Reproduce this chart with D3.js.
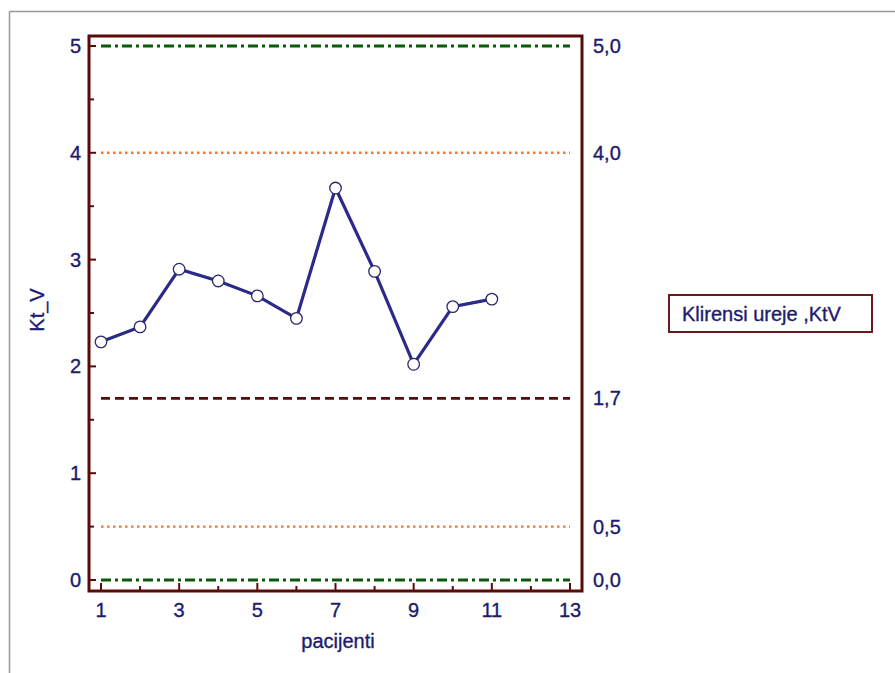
<!DOCTYPE html>
<html><head><meta charset="utf-8">
<script src="https://cdn.jsdelivr.net/npm/d3@7"></script>
<style>body{margin:0;background:#fff;} svg{display:block;} text{stroke:#1c1c6e;stroke-width:0.35px;}</style>
</head><body>
<script>
const patients = [1,2,3,4,5,6,7,8,9,10,11];
const ktv = [2.23,2.37,2.91,2.80,2.66,2.45,3.67,2.89,2.02,2.56,2.63];
const refValues = [5.0,4.0,1.7,0.5,0.0];
const refLabels = ["5,0","4,0","1,7","0,5","0,0"];
const refStyles = ["dashdot","dot","dash","dot","dashdot"];
const yTicks = [0,1,2,3,4,5];
const xTicks = [1,3,5,7,9,11,13];
const legendText = "Klirensi ureje ,KtV";

const W=895,H=673;
const svg=d3.select("body").append("svg").attr("width",W).attr("height",H);
const font="Liberation Sans, Arial, sans-serif";
const fs=20;
const navy="#1c1c6e", maroon="#5a0a0a";

// outer border
svg.append("line").attr("x1",9.5).attr("y1",11.5).attr("x2",W).attr("y2",11.5).attr("stroke","#999").attr("stroke-width",1.5);
svg.append("line").attr("x1",9.5).attr("y1",11.5).attr("x2",9.5).attr("y2",H).attr("stroke","#999").attr("stroke-width",1.5);

const fx0=89, fx1=582, fy0=36, fy1=591;
const x=d3.scaleLinear().domain([1,13]).range([101,570]);
const y=d3.scaleLinear().domain([0,5]).range([580,46]);

// reference lines
const dashes={dashdot:"10,4,3,4", dot:"2.5,3.5", dash:"9,5"};
const colors={dashdot:"#0b5a0b", dot:"#f07830", dash:"#5a0a0a"};
refValues.forEach((v,i)=>{
  const s=refStyles[i];
  svg.append("line").attr("x1",x(1)).attr("x2",x(13)).attr("y1",y(v)).attr("y2",y(v))
    .attr("stroke",colors[s]).attr("stroke-width",s==="dot"?2.4:2.8).attr("stroke-dasharray",dashes[s]);
  svg.append("text").attr("x",593).attr("y",y(v)).attr("dy","0.35em").attr("font-family",font)
    .attr("font-size",fs).attr("fill",navy).text(refLabels[i]);
});

// ticks left (inside)
const yMinor=d3.range(0,5.01,0.5);
yMinor.forEach(v=>{
  const major=Number.isInteger(v);
  svg.append("line").attr("x1",fx0).attr("x2",fx0+(major?7:5)).attr("y1",y(v)).attr("y2",y(v))
    .attr("stroke",maroon).attr("stroke-width",2);
});
yTicks.forEach(v=>{
  svg.append("text").attr("x",81).attr("y",y(v)).attr("dy","0.35em").attr("text-anchor","end")
    .attr("font-family",font).attr("font-size",fs).attr("fill",navy).text(v);
});
// ticks bottom (inside)
d3.range(1,14).forEach(v=>{
  const major=v%2===1;
  svg.append("line").attr("x1",x(v)).attr("x2",x(v)).attr("y1",fy1).attr("y2",fy1-(major?8:5))
    .attr("stroke",maroon).attr("stroke-width",2);
});
xTicks.forEach(v=>{
  svg.append("text").attr("x",x(v)).attr("y",617).attr("text-anchor","middle")
    .attr("font-family",font).attr("font-size",fs).attr("fill",navy).text(v);
});

// frame
svg.append("rect").attr("x",fx0).attr("y",fy0).attr("width",fx1-fx0).attr("height",fy1-fy0)
  .attr("fill","none").attr("stroke",maroon).attr("stroke-width",3);

// data line
const pts=patients.map((p,i)=>[p,ktv[i]]);
svg.append("path").datum(pts).attr("fill","none").attr("stroke","#2a2a8a").attr("stroke-width",3.2)
  .attr("d",d3.line().x(d=>x(d[0])).y(d=>y(d[1])));
svg.selectAll("circle.pt").data(pts).enter().append("circle").attr("class","pt")
  .attr("cx",d=>x(d[0])).attr("cy",d=>y(d[1])).attr("r",5.8)
  .attr("fill","#fff").attr("stroke","#2a2a6a").attr("stroke-width",1.3);

// axis titles
svg.append("text").attr("transform","translate(44,310) rotate(-90)").attr("text-anchor","middle")
  .attr("font-family",font).attr("font-size",fs).attr("fill",navy).text("Kt_V");
svg.append("text").attr("x",338).attr("y",648).attr("text-anchor","middle")
  .attr("font-family",font).attr("font-size",fs).attr("fill",navy).text("pacijenti");

// legend
svg.append("rect").attr("x",669).attr("y",295).attr("width",203).attr("height",37)
  .attr("fill","#fff").attr("stroke","#6a1a1a").attr("stroke-width",2);
svg.append("text").attr("x",682).attr("y",313.5).attr("dy","0.35em")
  .attr("font-family",font).attr("font-size",fs).attr("fill",navy).text(legendText);
</script>
</body></html>
